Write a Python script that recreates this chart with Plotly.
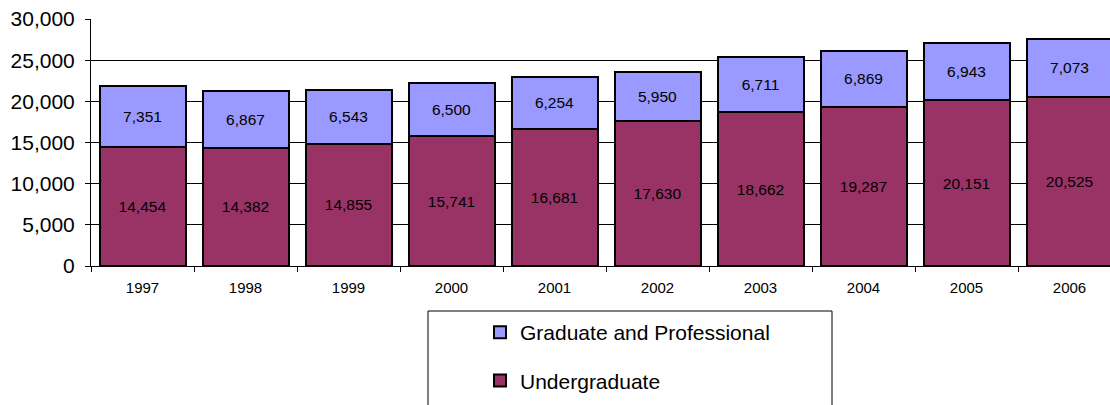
import plotly.graph_objects as go

years = ["1997", "1998", "1999", "2000", "2001", "2002", "2003", "2004", "2005", "2006"]
undergraduate = [14454, 14382, 14855, 15741, 16681, 17630, 18662, 19287, 20151, 20525]
graduate = [7351, 6867, 6543, 6500, 6254, 5950, 6711, 6869, 6943, 7073]
y_ticks = [0, 5000, 10000, 15000, 20000, 25000, 30000]

FONT = "Arial, Liberation Sans, sans-serif"

W, H = 1110, 405
ML, MT, MR, MB = 91, 19, 0, 139
pw = W - ML - MR
ph = H - MT - MB

fig = go.Figure()
fig.add_trace(go.Bar(
    x=years, y=undergraduate, name="Undergraduate", legendgroup="u", legendrank=2,
    marker=dict(color="#993366", line=dict(color="black", width=2)),
    texttemplate="%{y:,}", textposition="inside", insidetextanchor="middle",
    textangle=0, textfont=dict(size=15.5, color="black", family=FONT),
))
fig.add_trace(go.Bar(
    x=years, y=graduate, name="Graduate and Professional", legendgroup="g", legendrank=1,
    marker=dict(color="#9999FF", line=dict(color="black", width=2)),
    texttemplate="%{y:,}", textposition="inside", insidetextanchor="middle",
    textangle=0, textfont=dict(size=15.5, color="black", family=FONT),
))

# legend box (paper coords)
def px2x(px):
    return (px - ML) / pw

def py2y(py):
    return (H - MB - py) / ph

fig.add_shape(type="rect", xref="paper", yref="paper",
              x0=px2x(428), x1=px2x(832), y0=py2y(311), y1=py2y(430),
              line=dict(color="black", width=1), fillcolor="rgba(0,0,0,0)")

fig.update_layout(
    width=W, height=H,
    margin=dict(l=ML, r=MR, t=MT, b=MB, pad=0),
    barmode="stack", bargap=0.165,
    plot_bgcolor="white", paper_bgcolor="white",
    font=dict(family=FONT, color="black"),
    showlegend=True,
    legend=dict(
        x=px2x(480), y=py2y(312), xanchor="left", yanchor="top",
        traceorder="grouped", tracegroupgap=18,
        font=dict(size=21, family=FONT, color="black"),
        bgcolor="rgba(0,0,0,0)", borderwidth=0,
    ),
    xaxis=dict(
        type="category", range=[-0.5, 9.5 - 11 / 103],
        tickson="boundaries", ticks="outside", ticklen=5, tickcolor="black",
        showline=True, linecolor="black", linewidth=1,
        showgrid=False, tickfont=dict(size=15, family=FONT, color="black"),
        ticklabelstandoff=8,
    ),
    yaxis=dict(
        range=[0, 30000], tickvals=y_ticks, tickformat=",",
        ticks="outside", ticklen=5, tickcolor="black",
        showline=True, linecolor="black", linewidth=1,
        showgrid=True, gridcolor="black", gridwidth=1, zeroline=False,
        tickfont=dict(size=21, family=FONT, color="black"),
        ticklabelstandoff=6,
    ),
)

fig.write_html("out.html", config={"displayModeBar": False},
               post_script="document.body.style.margin='0';document.body.style.overflow='hidden';")
